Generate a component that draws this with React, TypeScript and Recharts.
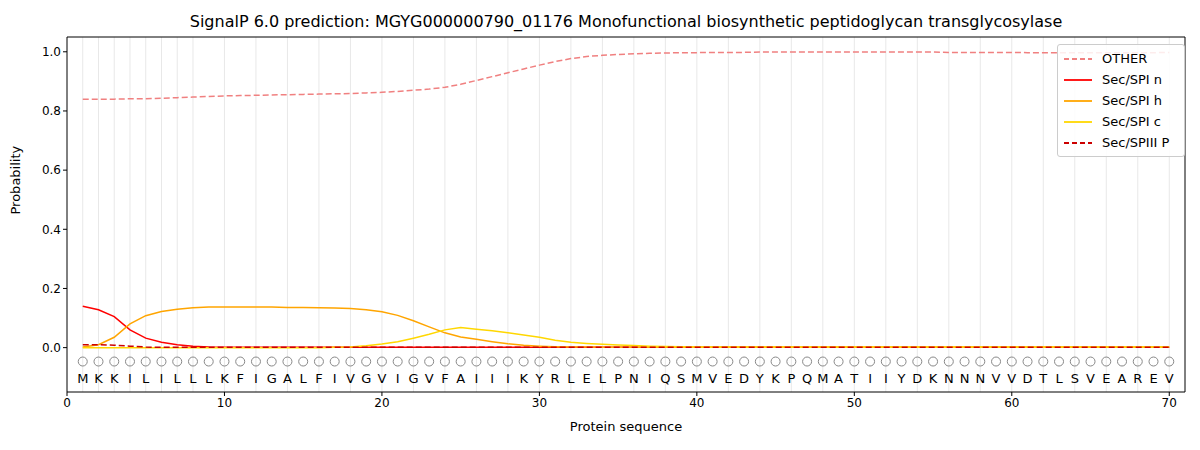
import React from "react";
import { ComposedChart, Line, XAxis, YAxis, CartesianGrid, ReferenceLine } from "recharts";

const sequence = "MKKILILLLKFIGALFIVGVIGVFAIIIKYRLELPNIQSMVEDYKPQMATIIYDKNNNVVDTLSVEAREV".split("");

const other = [
  0.840, 0.840, 0.840, 0.841, 0.841, 0.843, 0.845, 0.847, 0.849, 0.851,
  0.852, 0.853, 0.854, 0.855, 0.856, 0.857, 0.858, 0.859, 0.861, 0.863,
  0.866, 0.870, 0.874, 0.880, 0.890, 0.903, 0.916, 0.929, 0.942, 0.955,
  0.967, 0.977, 0.984, 0.988, 0.991, 0.993, 0.995, 0.996, 0.997, 0.997,
  0.998, 0.998, 0.998, 0.999, 0.999, 0.999, 0.999, 0.999, 0.999, 0.999,
  0.999, 0.999, 0.999, 0.999, 0.999, 0.998, 0.998, 0.998, 0.998, 0.998,
  0.997, 0.997, 0.997, 0.997, 0.997, 0.997, 0.997, 0.997, 0.997, 0.998,
];
const spiN = [
  0.140, 0.128, 0.105, 0.060, 0.032, 0.018, 0.010, 0.005, 0.002, 0.001,
  0.001, 0.001, 0.001, 0.001, 0.001, 0.001, 0.001, 0.001, 0.001, 0.001,
  0.001, 0.001, 0.001, 0.001, 0.001, 0.001, 0.001, 0.001, 0.001, 0.001,
  0.001, 0.001, 0.001, 0.001, 0.001, 0.001, 0.001, 0.001, 0.001, 0.001,
  0.001, 0.001, 0.001, 0.001, 0.001, 0.001, 0.001, 0.001, 0.001, 0.001,
  0.001, 0.001, 0.001, 0.001, 0.001, 0.001, 0.001, 0.001, 0.001, 0.001,
  0.001, 0.001, 0.001, 0.001, 0.001, 0.001, 0.001, 0.001, 0.001, 0.001,
];
const spiH = [
  0.002, 0.010, 0.035, 0.080, 0.108, 0.122, 0.130, 0.135, 0.137, 0.137,
  0.137, 0.137, 0.137, 0.136, 0.136, 0.135, 0.134, 0.132, 0.128, 0.121,
  0.109, 0.091, 0.070, 0.050, 0.036, 0.028, 0.020, 0.013, 0.008, 0.005,
  0.003, 0.002, 0.002, 0.001, 0.001, 0.001, 0.001, 0.001, 0.001, 0.001,
  0.001, 0.001, 0.001, 0.001, 0.001, 0.001, 0.001, 0.001, 0.001, 0.001,
  0.001, 0.001, 0.001, 0.001, 0.001, 0.001, 0.001, 0.001, 0.001, 0.001,
  0.001, 0.001, 0.001, 0.001, 0.001, 0.001, 0.001, 0.001, 0.001, 0.001,
];
const spiC = [
  0.000, 0.000, 0.000, 0.000, 0.000, 0.000, 0.000, 0.000, 0.000, 0.000,
  0.000, 0.000, 0.000, 0.000, 0.000, 0.000, 0.001, 0.002, 0.006, 0.012,
  0.020, 0.032, 0.045, 0.060, 0.068, 0.062, 0.057, 0.050, 0.043, 0.035,
  0.025, 0.018, 0.014, 0.011, 0.009, 0.007, 0.005, 0.004, 0.003, 0.002,
  0.002, 0.002, 0.002, 0.002, 0.002, 0.002, 0.002, 0.002, 0.002, 0.002,
  0.002, 0.002, 0.002, 0.002, 0.002, 0.002, 0.002, 0.002, 0.002, 0.002,
  0.002, 0.002, 0.002, 0.002, 0.002, 0.002, 0.002, 0.002, 0.002, 0.002,
];
const spiiiP = [
  0.010, 0.010, 0.008, 0.005, 0.002, 0.001, 0.001, 0.001, 0.001, 0.001,
  0.001, 0.001, 0.001, 0.001, 0.001, 0.001, 0.001, 0.001, 0.001, 0.001,
  0.001, 0.001, 0.001, 0.001, 0.001, 0.001, 0.001, 0.001, 0.001, 0.001,
  0.001, 0.001, 0.001, 0.001, 0.001, 0.001, 0.001, 0.001, 0.001, 0.001,
  0.001, 0.001, 0.001, 0.001, 0.001, 0.001, 0.001, 0.001, 0.001, 0.001,
  0.001, 0.001, 0.001, 0.001, 0.001, 0.001, 0.001, 0.001, 0.001, 0.001,
  0.001, 0.001, 0.001, 0.001, 0.001, 0.001, 0.001, 0.001, 0.001, 0.001,
];
const xTicks = [0, 10, 20, 30, 40, 50, 60, 70];
const yTicks = [0, 0.2, 0.4, 0.6, 0.8, 1.0];

const data = sequence.map((aa, i) => ({
  pos: i + 1,
  aa,
  marker: -0.047,
  other: other[i],
  spiN: spiN[i],
  spiH: spiH[i],
  spiC: spiC[i],
  spiiiP: spiiiP[i],
}));

const FONT = "DejaVu Sans, sans-serif";

const legendItems = [
  { label: "OTHER", color: "#f08080", dash: "5 3" },
  { label: "Sec/SPI n", color: "#ff0000", dash: "" },
  { label: "Sec/SPI h", color: "#ffa500", dash: "" },
  { label: "Sec/SPI c", color: "#ffd700", dash: "" },
  { label: "Sec/SPIII P", color: "#cc0000", dash: "5 3" },
];

const ResidueDot = (props: any) => {
  const { cx, cy, payload } = props;
  return (
    <g key={`r${payload.pos}`}>
      <circle cx={cx} cy={cy} r={4.5} fill="none" stroke="#888" strokeWidth={1} />
      <text x={cx} y={cy + 21} textAnchor="middle" fontSize={13} fontFamily={FONT} fill="#000">
        {payload.aa}
      </text>
    </g>
  );
};

export default function App() {
  return (
    <div style={{ position: "relative", width: 1200, height: 450, margin: -8, background: "#fff", fontFamily: FONT }}>
      <div style={{ position: "absolute", top: 12, left: 0, width: 1252, textAlign: "center", fontSize: 16 }}>
        SignalP 6.0 prediction: MGYG000000790_01176 Monofunctional biosynthetic peptidoglycan transglycosylase
      </div>
      <ComposedChart width={1200} height={450} data={data} margin={{ top: 37, right: 15, bottom: 28, left: 7 }}>
        <CartesianGrid vertical horizontal={false} stroke="#e8e8e8" verticalValues={data.map((d) => d.pos)} />
        <XAxis
          type="number"
          dataKey="pos"
          domain={[0, 71]}
          ticks={xTicks}
          tick={{ fontSize: 12, fill: "#000", fontFamily: FONT }}
          tickLine={{ stroke: "#000" }}
          axisLine={{ stroke: "#000" }}
          tickSize={4}
        />
        <YAxis
          type="number"
          domain={[-0.15, 1.05]}
          ticks={yTicks}
          tickFormatter={(v: number) => v.toFixed(1)}
          tick={{ fontSize: 12, fill: "#000", fontFamily: FONT }}
          tickLine={{ stroke: "#000" }}
          axisLine={{ stroke: "#000" }}
          tickSize={4}
          width={60}
          label={{ value: "Probability", angle: -90, position: "insideLeft", offset: 8, fontSize: 13, fill: "#000", fontFamily: FONT }}
        />
        <ReferenceLine x={71} stroke="#000" />
        <ReferenceLine y={1.05} stroke="#000" />
        <Line dataKey="marker" stroke="none" dot={<ResidueDot />} activeDot={false} isAnimationActive={false} />
        <Line type="linear" dataKey="other" stroke="#f08080" strokeWidth={1.5} strokeDasharray="6 3" dot={false} isAnimationActive={false} />
        <Line type="linear" dataKey="spiN" stroke="#ff0000" strokeWidth={1.5} dot={false} isAnimationActive={false} />
        <Line type="linear" dataKey="spiH" stroke="#ffa500" strokeWidth={1.5} dot={false} isAnimationActive={false} />
        <Line type="linear" dataKey="spiC" stroke="#ffd700" strokeWidth={1.5} dot={false} isAnimationActive={false} />
        <Line type="linear" dataKey="spiiiP" stroke="#cc0000" strokeWidth={1.5} strokeDasharray="6 3" dot={false} isAnimationActive={false} />
      </ComposedChart>
      <div style={{ position: "absolute", top: 419, left: 67, width: 1118, textAlign: "center", fontSize: 13 }}>
        Protein sequence
      </div>
      <div
        style={{
          position: "absolute", top: 44, left: 1057, width: 120, padding: "3px 0 3px 6px",
          border: "1px solid #ccc", borderRadius: 3, background: "rgba(255,255,255,0.85)", fontSize: 13,
        }}
      >
        {legendItems.map((it) => (
          <div key={it.label} style={{ display: "flex", alignItems: "center", height: 21 }}>
            <svg width={30} height={10} style={{ marginRight: 8 }}>
              <line x1={0} y1={5} x2={28} y2={5} stroke={it.color} strokeWidth={1.8} strokeDasharray={it.dash} />
            </svg>
            {it.label}
          </div>
        ))}
      </div>
    </div>
  );
}
